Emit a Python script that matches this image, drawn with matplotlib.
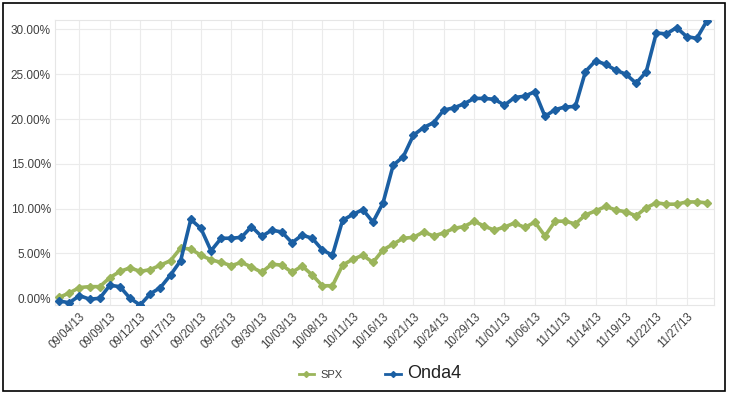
"""
SPX vs Onda4 cumulative return, Sep-Dec 2013
"""

import numpy as np
import matplotlib.pyplot as plt
from matplotlib.lines import Line2D
from matplotlib.patches import Rectangle
from matplotlib.ticker import FuncFormatter


# -----------------------------
# Data
# -----------------------------

dates = [
    "08/30/13", "09/03/13", "09/04/13", "09/05/13", "09/06/13",
    "09/09/13", "09/10/13", "09/11/13", "09/12/13", "09/13/13",
    "09/16/13", "09/17/13", "09/18/13", "09/19/13", "09/20/13",
    "09/23/13", "09/24/13", "09/25/13", "09/26/13", "09/27/13",
    "09/30/13", "10/01/13", "10/02/13", "10/03/13", "10/04/13",
    "10/07/13", "10/08/13", "10/09/13", "10/10/13", "10/11/13",
    "10/14/13", "10/15/13", "10/16/13", "10/17/13", "10/18/13",
    "10/21/13", "10/22/13", "10/23/13", "10/24/13", "10/25/13",
    "10/28/13", "10/29/13", "10/30/13", "10/31/13", "11/01/13",
    "11/04/13", "11/05/13", "11/06/13", "11/07/13", "11/08/13",
    "11/11/13", "11/12/13", "11/13/13", "11/14/13", "11/15/13",
    "11/18/13", "11/19/13", "11/20/13", "11/21/13", "11/22/13",
    "11/25/13", "11/26/13", "11/27/13", "11/29/13", "12/02/13",
]

spx = [
    0.1, 0.6, 1.2, 1.3, 1.3, 2.3, 3.0, 3.4, 3.0, 3.2,
    3.7, 4.2, 5.6, 5.5, 4.8, 4.3, 4.0, 3.65, 4.0, 3.5,
    2.9, 3.8, 3.7, 2.9, 3.6, 2.6, 1.4, 1.4, 3.7, 4.35,
    4.8, 4.0, 5.4, 6.05, 6.7, 6.8, 7.4, 6.95, 7.3, 7.8,
    8.0, 8.6, 8.05, 7.6, 7.95, 8.4, 7.9, 8.5, 6.95, 8.6,
    8.6, 8.3, 9.3, 9.75, 10.25, 9.85, 9.65, 9.2, 10.1, 10.65,
    10.5, 10.5, 10.75, 10.75, 10.65,
]

onda4 = [
    -0.3, -0.5, 0.3, -0.1, 0.0, 1.45, 1.3, 0.0, -0.75, 0.5,
    1.2, 2.6, 4.2, 8.8, 7.8, 5.3, 6.7, 6.7, 6.8, 8.0,
    6.9, 7.6, 7.4, 6.2, 7.05, 6.7, 5.4, 4.8, 8.7, 9.35,
    9.9, 8.5, 10.65, 14.85, 15.8, 18.2, 19.05, 19.6, 21.0, 21.25,
    21.7, 22.3, 22.3, 22.2, 21.55, 22.4, 22.55, 23.05, 20.3, 21.05,
    21.35, 21.4, 25.3, 26.5, 26.1, 25.45, 25.0, 24.0, 25.25, 29.6,
    29.5, 30.2, 29.2, 29.0, 30.95,
]

y_ticks = [0, 5, 10, 15, 20, 25, 30]

BLUE = "#1b5fa3"
GREEN = "#9bb55b"
GRID = "#ebebeb"
TEXT = "#404040"


# -----------------------------
# Plot
# -----------------------------

plt.rcParams["font.family"] = ["Liberation Sans", "DejaVu Sans"]

fig = plt.figure(figsize=(7.29, 3.95), dpi=100)
ax = fig.add_axes([0.0754, 0.2278, 0.904, 0.7216])

x = np.arange(len(dates))

ax.plot(x, spx, color=GREEN, linewidth=2.6, marker="D", markersize=3.8,
        zorder=3)
ax.plot(x, onda4, color=BLUE, linewidth=2.6, marker="D", markersize=3.8,
        zorder=4)

ax.set_xlim(-0.42, 64.7)
ax.set_ylim(-0.75, 31.05)

tick_idx = list(range(2, len(dates), 3))
ax.set_xticks(tick_idx)
ax.set_xticklabels([dates[i] for i in tick_idx], rotation=45, ha="right",
                   rotation_mode="anchor", fontsize=8.3, color=TEXT)

ax.set_yticks(y_ticks)
ax.yaxis.set_major_formatter(FuncFormatter(lambda v, p: f"{v:.2f}%"))
ax.tick_params(axis="y", labelsize=8.5, labelcolor=TEXT, length=0, pad=3)
ax.tick_params(axis="x", length=0, pad=4)

ax.grid(True, color=GRID, linewidth=0.8)
ax.set_axisbelow(True)
for side in ax.spines.values():
    side.set_color("#e6e6e6")
    side.set_linewidth(0.8)

# legend, with the odd mixed font sizes of the original
handles = [
    Line2D([], [], color=GREEN, linewidth=2, marker="D", markersize=3),
    Line2D([], [], color=BLUE, linewidth=2, marker="D", markersize=3),
]
leg = fig.legend(handles, ["SPX", "Onda4"], loc="center",
                 bbox_to_anchor=(380 / 729, 1 - 373 / 395), ncol=2,
                 frameon=False, fontsize=8, handlelength=1.4,
                 handletextpad=0.6, columnspacing=3.8)
leg.get_texts()[0].set_color(TEXT)
leg.get_texts()[1].set_fontsize(13)
leg.get_texts()[1].set_color("#222222")

# black frame round the whole chart
fig.patches.append(Rectangle((3 / 729, 4 / 395), 722 / 729, 388 / 395,
                             transform=fig.transFigure, fill=False,
                             edgecolor="black", linewidth=1.2))

plt.savefig("out.png", dpi=100)
